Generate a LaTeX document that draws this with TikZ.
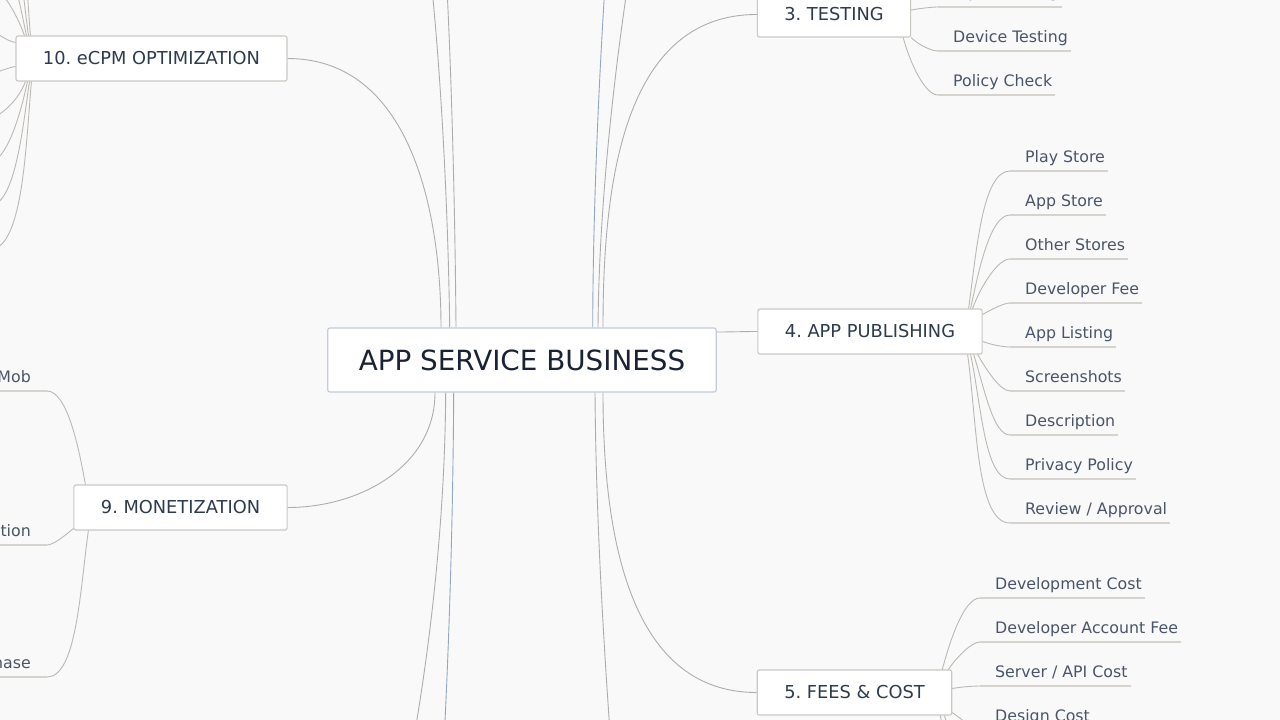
\documentclass[tikz,border=0pt]{standalone}
\usepackage{fontspec}
\setmainfont{DejaVu Sans}
\frenchspacing
\definecolor{bgcol}{HTML}{F9F9F9}
\definecolor{rootline}{HTML}{C3CCD9}
\definecolor{boxline}{HTML}{CBC8C4}
\definecolor{roottext}{HTML}{1A2233}
\definecolor{branchtext}{HTML}{2E3A4E}
\definecolor{leaftext}{HTML}{4A5568}
\definecolor{twigcol}{HTML}{BCB8B3}
\definecolor{ulinecol}{HTML}{D6D2CD}
\definecolor{trunkcol}{HTML}{ADADAD}
\definecolor{trunkblue}{HTML}{93A6C4}
\tikzset{
  root/.style={draw=rootline, fill=white, rounded corners=2pt, line width=1.2pt,
    font=\fontsize{27.8}{30}\selectfont, text=roottext, inner xsep=31pt, minimum height=64pt},
  branch/.style={draw=boxline, fill=white, rounded corners=2pt, line width=1.1pt,
    font=\fontsize{17.8}{20}\selectfont, text=branchtext, inner xsep=27pt, minimum height=45pt},
  leaf/.style={font=\fontsize{15.8}{18}\selectfont, text=leaftext, inner sep=0pt},
  uline/.style={draw=ulinecol, line width=2pt},
  twig/.style={draw=twigcol, line width=0.9pt, in looseness=0.5},
  trunk/.style={draw=trunkcol, line width=0.9pt},
}
\begin{document}
\begin{tikzpicture}[x=1pt, y=1pt]
  \useasboundingbox (0,0) rectangle (1280,-720);
  \fill[bgcol] (0,0) rectangle (1280,-720);
  \clip (0,0) rectangle (1280,-720);

  % topics
  \node[root] (root) at (522,-360) {APP SERVICE BUSINESS};
  \node[branch] (ecpm) at (151.5,-58.5) {10. eCPM OPTIMIZATION};
  \node[branch] (money) at (180.5,-507.5) {9. MONETIZATION};
  \node[branch] (test) at (834,-14.5) {3. TESTING};
  \node[branch] (pub) at (870,-331.5) {4. APP PUBLISHING};
  \node[branch] (fees) at (854.5,-692.5) {5. FEES \& COST};

  % trunk lines
  \draw[trunk] (ecpm.east) to[out=0,in=90] ([xshift=-81pt]root.north);
  \draw[trunk] (money.east) to[out=0,in=-90] ([xshift=-87pt]root.south);
  \draw[trunk] (test.west) to[out=180,in=90] ([xshift=81pt]root.north);
  \draw[trunk] (fees.west) to[out=180,in=-90] ([xshift=81pt]root.south);
  \draw[trunk] ([yshift=28pt]root.east) to[out=0,in=180] (pub.west);

  % trunks to topics out of view
  \coordinate (up1) at (430,30);  \coordinate (up2) at (446,30);
  \coordinate (up3) at (606,30);  \coordinate (up4) at (630,30);
  \coordinate (dn1) at (410,-760); \coordinate (dn2) at (443,-760);
  \coordinate (dn3) at (612,-760);
  \draw[trunk] ([xshift=-72.3pt]root.north) .. controls +(-1.7,128) and +(10,-90) .. (up1);
  \draw[trunk] ([xshift=-66pt]root.north) .. controls +(-1,128) and +(5,-90) .. (up2);
  \draw[trunk, draw=trunkblue] ([xshift=70.7pt]root.north) .. controls +(0.3,128) and +(-6,-90) .. (up3);
  \draw[trunk] ([xshift=76pt]root.north) .. controls +(1,128) and +(-14,-90) .. (up4);
  \draw[trunk] ([xshift=-76.3pt]root.south) .. controls +(-0.7,-128) and +(20,110) .. (dn1);
  \draw[trunk, draw=trunkblue] ([xshift=-68.3pt]root.south) .. controls +(-0.7,-128) and +(6,110) .. (dn2);
  \draw[trunk] ([xshift=73pt]root.south) .. controls +(1,-128) and +(-8,110) .. (dn3);

  % 3. testing
  \foreach \nm/\txt/\yb in {at/Alpha Testing/2, dt/Device Testing/-42, pc/Policy Check/-86} {
    \node[leaf, anchor=base west] (\nm) at (953,\yb) {\txt};
    \coordinate (\nm-u) at ([xshift=-15pt,yshift=-9pt]\nm.base west);
    \draw[uline] (\nm-u) -- ([xshift=3pt,yshift=-9pt]\nm.base east);
  }
  \draw[twig] ([yshift=4.5pt]test.east) to[out=10,in=180] (at-u);
  \draw[twig] (test.south east) to[out=-45,in=180] (dt-u);
  \draw[twig] ([xshift=-8pt]test.south east) to[out=-75,in=180] (pc-u);

  % 4. publishing
  \foreach \nm/\txt/\yb in {ps/Play Store/-162, as/App Store/-206, os/Other Stores/-250,
      df/Developer Fee/-294, al/App Listing/-338, sc/Screenshots/-382,
      de/Description/-426, pp/Privacy Policy/-470, ra/{Review / Approval}/-514} {
    \node[leaf, anchor=base west] (\nm) at (1025,\yb) {\txt};
    \coordinate (\nm-u) at ([xshift=-15pt,yshift=-9pt]\nm.base west);
    \draw[uline] (\nm-u) -- ([xshift=3pt,yshift=-9pt]\nm.base east);
  }
  \draw[twig] ([xshift=-14pt]pub.north east) to[out=82,in=180] (ps-u);
  \draw[twig] ([xshift=-12pt]pub.north east) to[out=78,in=180] (as-u);
  \draw[twig] ([xshift=-10pt]pub.north east) to[out=70,in=180] (os-u);
  \draw[twig] ([yshift=-6pt]pub.north east) to[out=30,in=180] (df-u);
  \draw[twig] ([yshift=-10pt]pub.east) to[out=-20,in=180] (al-u);
  \draw[twig] ([xshift=-5pt]pub.south east) to[out=-60,in=180] (sc-u);
  \draw[twig] ([xshift=-9pt]pub.south east) to[out=-72,in=180] (de-u);
  \draw[twig] ([xshift=-12pt]pub.south east) to[out=-78,in=180] (pp-u);
  \draw[twig] ([xshift=-15pt]pub.south east) to[out=-82,in=180] (ra-u);

  % 5. fees
  \foreach \nm/\txt/\yb in {dc/Development Cost/-589, da/Developer Account Fee/-633,
      sa/{Server / API Cost}/-677, dsg/Design Cost/-721} {
    \node[leaf, anchor=base west] (\nm) at (995,\yb) {\txt};
    \coordinate (\nm-u) at ([xshift=-15pt,yshift=-9pt]\nm.base west);
    \draw[uline] (\nm-u) -- ([xshift=3pt,yshift=-9pt]\nm.base east);
  }
  \coordinate (fk1) at (980,-774); \coordinate (fk2) at (980,-818);
  \draw[twig] ([xshift=-10pt]fees.north east) to[out=75,in=180] (dc-u);
  \draw[twig] ([xshift=-4pt]fees.north east) to[out=55,in=180] (da-u);
  \draw[twig] ([yshift=4pt]fees.east) to[out=10,in=180] (sa-u);
  \draw[twig] ([yshift=-20pt]fees.east) to[out=-35,in=180] (dsg-u);
  \draw[twig] ([xshift=-8pt]fees.south east) to[out=-70,in=180] (fk1);
  \draw[twig] ([xshift=-12pt]fees.south east) to[out=-78,in=180] (fk2);

  % 9. monetization
  \foreach \nm/\txt/\yb in {adm/AdMob/-382, sub/Subscription/-536, iap/In-App Purchase/-668} {
    \node[leaf, anchor=base east] (\nm) at (31,\yb) {\txt};
    \coordinate (\nm-u) at ([xshift=16pt,yshift=-9pt]\nm.base east);
    \draw[uline] ([xshift=-3pt,yshift=-9pt]\nm.base west) -- (\nm-u);
  }
  \draw[twig] ([xshift=12pt]money.north west) to[out=100,in=0] (adm-u);
  \draw[twig] ([yshift=2pt]money.south west) to[out=-140,in=0] (sub-u);
  \draw[twig] ([xshift=15pt]money.south west) to[out=-98,in=0] (iap-u);

  % 10. ecpm, leaves out of view
  \foreach \i/\y in {1/146,2/102,3/58,4/14,5/-30,6/-74,7/-118,8/-162,9/-206,10/-250}
    \coordinate (ek\i) at (-11,\y);
  \draw[twig] ([xshift=15pt]ecpm.north west) to[out=95,in=0] (ek1);
  \draw[twig] ([xshift=13pt]ecpm.north west) to[out=98,in=0] (ek2);
  \draw[twig] ([xshift=11pt]ecpm.north west) to[out=102,in=0] (ek3);
  \draw[twig] ([xshift=9pt]ecpm.north west) to[out=110,in=0] (ek4);
  \draw[twig] ([yshift=16pt]ecpm.west) to[out=170,in=0] (ek5);
  \draw[twig] ([yshift=-8pt]ecpm.west) to[out=-170,in=0] (ek6);
  \draw[twig] ([xshift=10pt]ecpm.south west) to[out=-110,in=0] (ek7);
  \draw[twig] ([xshift=12pt]ecpm.south west) to[out=-102,in=0] (ek8);
  \draw[twig] ([xshift=14pt]ecpm.south west) to[out=-98,in=0] (ek9);
  \draw[twig] ([xshift=16pt]ecpm.south west) to[out=-95,in=0] (ek10);
\end{tikzpicture}
\end{document}
